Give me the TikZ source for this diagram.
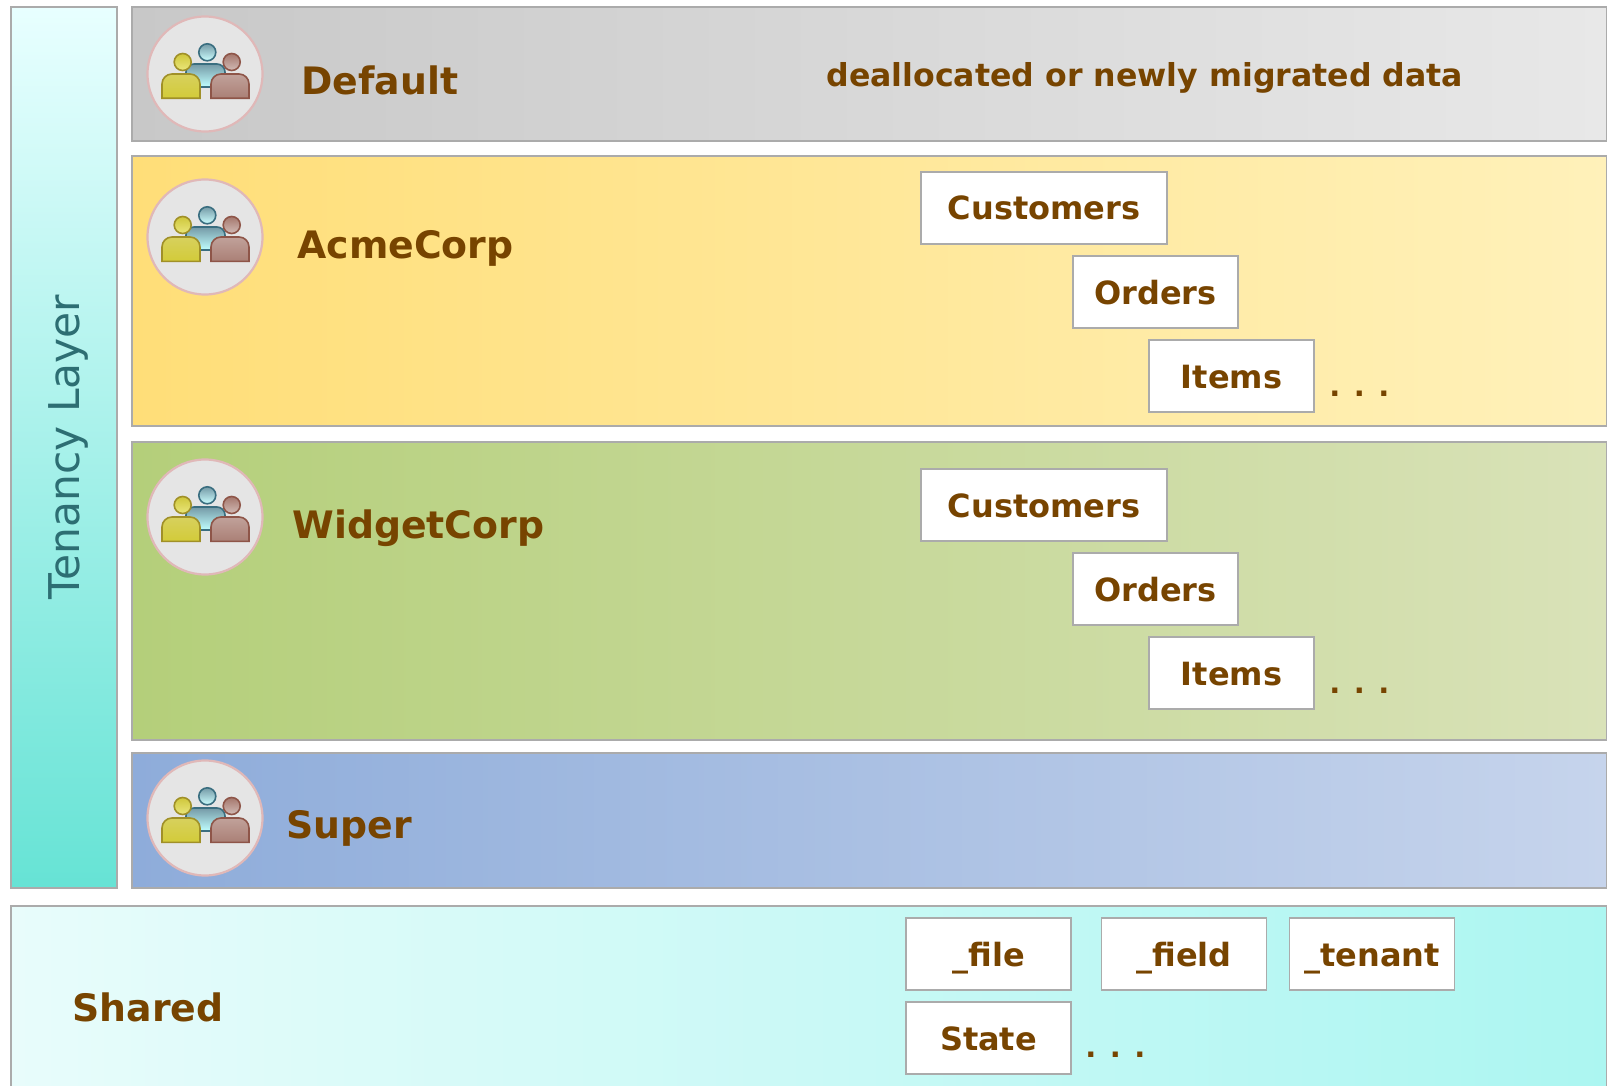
\documentclass[tikz,border=0pt]{standalone}
\usepackage{fontspec}
\setmainfont{DejaVu Sans}
\usepackage{tikz}
\definecolor{labelbrown}{HTML}{774400}
\definecolor{edgegray}{HTML}{ABABAB}
\definecolor{ringpink}{HTML}{E0B8B8}
\definecolor{blueedge}{HTML}{3A6E80}
\definecolor{yellowedge}{HTML}{A09028}
\definecolor{rededge}{HTML}{8E5548}
\tikzset{
  band/.style={draw=edgegray, line width=1pt, shading=axis},
  tablebox/.style={draw=edgegray, line width=0.8pt, fill=white, inner sep=0pt,
    text=labelbrown, font=\fontsize{16}{16}\selectfont\bfseries,
    text height=12pt, text depth=0pt},
  wide/.style={minimum width=123pt, minimum height=36pt},
  narrow/.style={minimum width=82.5pt, minimum height=36pt},
  tenant/.style={anchor=base west, text=labelbrown, inner sep=0pt,
    font=\fontsize{18.9}{19}\selectfont\bfseries},
  note/.style={anchor=base west, text=labelbrown, inner sep=0pt,
    font=\fontsize{15.8}{16}\selectfont\bfseries},
  dots/.style={anchor=base west, text=labelbrown, inner sep=0pt,
    font=\fontsize{14.5}{16}\selectfont\bfseries},
}
\newcommand{\peopleicon}[1]{
  \begin{scope}[shift={(#1)}]
    \draw[draw=ringpink, line width=1.1pt, fill=black!10] (0,0) circle (57.5);
    % Middle person
    \draw[draw=blueedge, line width=0.8pt, top color=blueedge!70!white, bottom color=cyan!25!white]
      (-3,13) [rounded corners=4pt] -- (-19,13) -- (-19,-10) -- (20,-10) -- (20,13) -- cycle;
    \draw[draw=blueedge, line width=0.8pt, top color=blueedge!70!white, bottom color=cyan!20!white] (2.3,-21.7) circle (8.5);
    % Left person
    \draw[draw=yellowedge, line width=0.8pt, top color=yellowedge!60!yellow!70!white, bottom color=yellowedge!55!yellow!85!white]
      (-43,24.3) [rounded corners=5pt] -- (-43,0) -- (-5,0) [sharp corners] -- (-5,24.3) -- cycle;
    \draw[draw=yellowedge, line width=0.8pt, top color=yellowedge!60!yellow!85!white, bottom color=yellowedge!40!yellow!55!white] (-22.3,-12) circle (8.5);
    % Right person
    \draw[draw=rededge, line width=0.8pt, top color=rededge!55!white, bottom color=rededge!75!white]
      (6,24.3) [rounded corners=5pt] -- (6,0) -- (44,0) [sharp corners] -- (44,24.3) -- cycle;
    \draw[draw=rededge, line width=0.8pt, top color=rededge!80!white, bottom color=rededge!40!white] (26.7,-12) circle (8.5);
  \end{scope}
}

\begin{document}
\begin{tikzpicture}[x=0.5pt, y=-0.5pt]

  \useasboundingbox (0,0) rectangle (1607,1086);

  % Tenancy layer column
  \draw[band, top color=white!10!cyan!10, bottom color={rgb,255:red,102;green,227;blue,213}] (11,7) rectangle (117,888);
  \node[rotate=90, text={rgb,255:red,45;green,110;blue,115}, font=\fontsize{21.2}{21}\selectfont] (TenancyLayer) at (68,447) {Tenancy Layer};

  % Tenant bands
  \draw[band, left color={rgb,255:red,200;green,200;blue,200}, right color={rgb,255:red,232;green,232;blue,232}] (132,7) rectangle (1607,141);
  \draw[band, left color={rgb,255:red,255;green,222;blue,120}, right color={rgb,255:red,255;green,241;blue,186}] (132,156) rectangle (1607,426);
  \draw[band, left color={rgb,255:red,180;green,207;blue,122}, right color={rgb,255:red,217;green,226;blue,184}] (132,442) rectangle (1607,740);
  \draw[band, left color={rgb,255:red,142;green,172;blue,218}, right color={rgb,255:red,198;green,212;blue,236}] (132,753) rectangle (1607,888);
  \draw[band, left color={rgb,255:red,232;green,252;blue,251}, right color={rgb,255:red,172;green,246;blue,241}] (11,906) rectangle (1607,1090);

  % Icons
  \peopleicon{205,74}
  \peopleicon{205,237}
  \peopleicon{205,517}
  \peopleicon{205,818}

  % Tenant names
  \node[tenant] (Default) at (301,95) {Default};
  \node[tenant] (AcmeCorp) at (297,258) {AcmeCorp};
  \node[tenant] (WidgetCorp) at (292,538) {WidgetCorp};
  \node[tenant] (Super) at (286,838) {Super};
  \node[tenant] (Shared) at (72,1021) {Shared};
  \node[note] (DefaultNote) at (826,87) {deallocated or newly migrated data};

  % AcmeCorp tables
  \node[tablebox, wide] (AcmeCustomers) at (1044,208) {Customers};
  \node[tablebox, narrow] (AcmeOrders) at (1155.5,292) {Orders};
  \node[tablebox, narrow] (AcmeItems) at (1231.5,376) {Items};
  \node[dots] (AcmeDots) at (1329,396) {. . .};

  % WidgetCorp tables
  \node[tablebox, wide] (WidgetCustomers) at (1044,505) {Customers};
  \node[tablebox, narrow] (WidgetOrders) at (1155.5,589) {Orders};
  \node[tablebox, narrow] (WidgetItems) at (1231.5,673) {Items};
  \node[dots] (WidgetDots) at (1329,693) {. . .};

  % Shared tables
  \node[tablebox, narrow] (SharedFile) at (988.5,954) {\_file};
  \node[tablebox, narrow] (SharedField) at (1184,954) {\_field};
  \node[tablebox, narrow] (SharedTenant) at (1372,954) {\_tenant};
  \node[tablebox, narrow] (SharedState) at (988.5,1038) {State};
  \node[dots] (SharedDots) at (1085,1057) {. . .};

\end{tikzpicture}
\end{document}
